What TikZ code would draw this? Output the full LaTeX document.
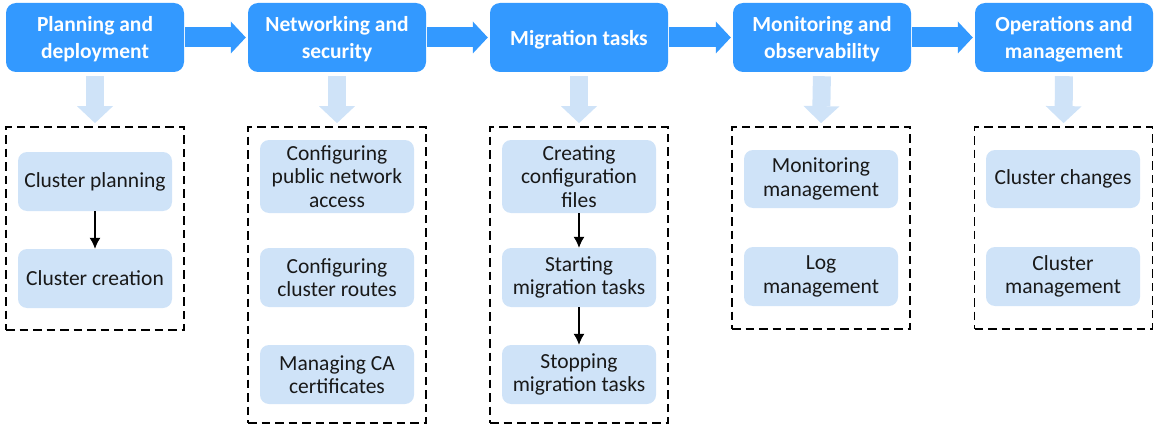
\documentclass[tikz,border=0pt]{standalone}
\usepackage{fontspec}
\setmainfont{Carlito}
\usetikzlibrary{arrows.meta}
\definecolor{headblue}{HTML}{3399FF}
\definecolor{paleblue}{HTML}{CFE3F8}

\begin{document}
\begin{tikzpicture}[x=1pt, y=-1pt,
	head/.style={fill=headblue, text=white, rounded corners=10pt, inner sep=0pt,
		minimum width=178pt, minimum height=69pt, align=center, text depth=0pt,
		font=\fontsize{21.5}{26.5}\selectfont\bfseries},
	item/.style={fill=paleblue, text=black!90, rounded corners=9pt, inner sep=0pt,
		minimum width=154pt, align=center, font=\fontsize{21.5}{23.5}\selectfont},
	group/.style={draw, line width=1.7pt, dash pattern=on 8.5pt off 5pt,
		minimum width=178pt, inner sep=0pt},
	flow/.style={headblue, line width=20pt, shorten <=1pt, shorten >=2pt,
		-{Triangle[width=32pt, length=15pt, line width=0pt]}},
	down/.style={paleblue, line width=18pt, shorten <=4pt, shorten >=3pt,
		-{Triangle[width=36pt, length=17pt, line width=0pt]}},
	link/.style={line width=1.2pt, -{Latex[length=11pt, width=11pt]}}]
	\useasboundingbox (0,0) rectangle (1157,428);

	% top row
	\node[head] (h1) at (95,37.5)   {Planning and\\deployment};
	\node[head] (h2) at (337,37.5)  {Networking and\\security};
	\node[head] (h3) at (579,37.5)  {Migration tasks};
	\node[head] (h4) at (822,37.5)  {Monitoring and\\observability};
	\node[head] (h5) at (1064,37.5) {Operations and\\management};
	\foreach \a/\b in {h1/h2, h2/h3, h3/h4, h4/h5}
		\draw[flow] (\a.east) -- (\b.west);

	% dashed groups
	\node[group, minimum height=203pt] (g1) at (95,228.5)  {};
	\node[group, minimum height=296pt] (g2) at (337,275)   {};
	\node[group, minimum height=296pt] (g3) at (579,275)   {};
	\node[group, minimum height=202pt] (g4) at (821,228)   {};
	\node[group, minimum height=202pt] (g5) at (1063.5,228) {};
	\foreach \i in {1,...,5}
		\draw[down] (h\i.south) -- (g\i.north);

	% tasks
	\node[item, minimum height=59pt] (c1a) at (95,181.5) {Cluster planning};
	\node[item, minimum height=59pt] (c1b) at (95,278.5) {Cluster creation};
	\draw[link] (c1a) -- (c1b);

	\node[item, minimum height=73pt] (c2a) at (337,176.5) {Configuring\\public network\\access};
	\node[item, minimum height=59pt] (c2b) at (337,277.5) {Configuring\\cluster routes};
	\node[item, minimum height=59pt] (c2c) at (337,374.5) {Managing CA\\certificates};

	\node[item, minimum height=73pt] (c3a) at (579,176.5) {Creating\\configuration\\files};
	\node[item, minimum height=59pt] (c3b) at (579,277.5) {Starting\\migration tasks};
	\node[item, minimum height=59pt] (c3c) at (579,374.5) {Stopping\\migration tasks};
	\draw[link] (c3a) -- (c3b);
	\draw[link] (c3b) -- (c3c);

	\node[item, minimum height=58pt] (c4a) at (821,179)   {Monitoring\\management};
	\node[item, minimum height=59pt] (c4b) at (821,276.5) {Log\\management};

	\node[item, minimum height=58pt] (c5a) at (1063,179)   {Cluster changes};
	\node[item, minimum height=59pt] (c5b) at (1063,276.5) {Cluster\\management};
\end{tikzpicture}
\end{document}
